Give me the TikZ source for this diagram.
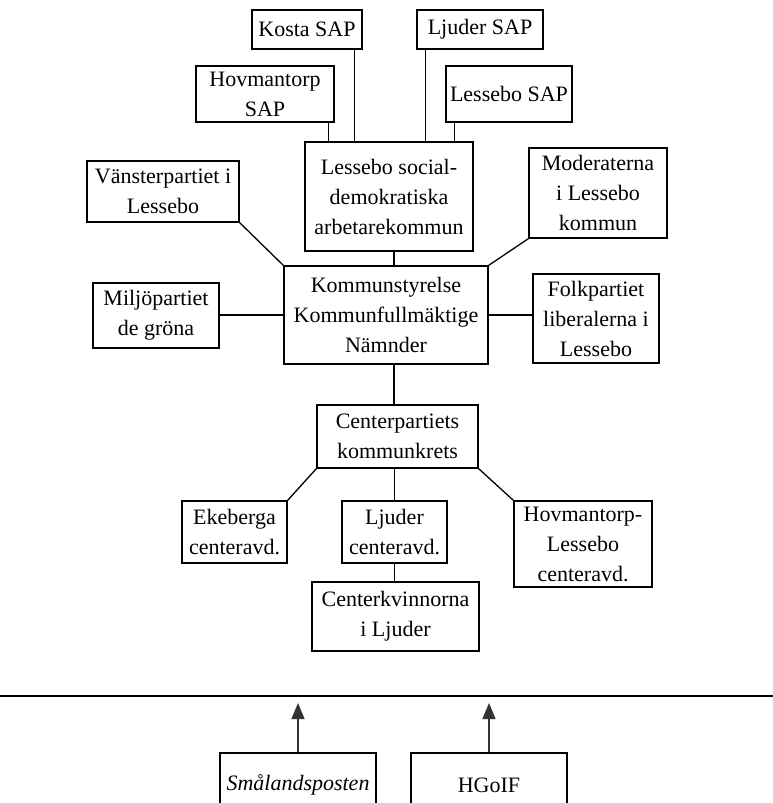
\documentclass[tikz,border=0pt]{standalone}
\usepackage{fontspec}
\setmainfont{Liberation Serif}
\usetikzlibrary{arrows.meta}
\tikzset{
  box/.style={draw, line width=1.3pt, inner sep=0pt, align=center,
    font=\fontsize{22}{30}\selectfont},
  conn/.style={line width=1.3pt},
  arr/.style={line width=1.3pt, draw=black!80, -{Triangle[width=13pt,length=16pt]}}
}
\begin{document}
\begin{tikzpicture}[x=1pt,y=-1pt]
\useasboundingbox (0,0) rectangle (773,803);
\clip (0,0) rectangle (773,803);
% top SAP boxes
\node[box, minimum width=110pt, minimum height=39pt] (kosta) at (307,29.5) {Kosta SAP};
\node[box, minimum width=126pt, minimum height=39pt] (ljsap) at (480,29.5) {Ljuder SAP};
\node[box, minimum width=138pt, minimum height=56pt] (hovsap) at (265,94) {Hovmantorp\\SAP};
\node[box, minimum width=126pt, minimum height=56pt] (lesap) at (509,94) {Lessebo SAP};
\node[box, minimum width=168pt, minimum height=109pt] (sd) at (389,196.5) {Lessebo social-\\demokratiska\\arbetarekommun};
% side boxes
\node[box, minimum width=152pt, minimum height=61pt] (vans) at (163,191.5) {Vänsterpartiet i\\Lessebo};
\node[box, minimum width=138pt, minimum height=90pt] (mod) at (598,193) {Moderaterna\\i Lessebo\\kommun};
\node[box, minimum width=204pt, minimum height=98pt] (kommun) at (386,315) {Kommunstyrelse\\Kommunfullmäktige\\Nämnder};
\node[box, minimum width=126pt, minimum height=65pt] (milj) at (156,315.5) {Miljöpartiet\\de gröna};
\node[box, minimum width=126pt, minimum height=89pt] (folk) at (596,318.5) {Folkpartiet\\liberalerna i\\Lessebo};
% center party
\node[box, minimum width=161pt, minimum height=63pt] (cent) at (397.5,436.5) {Centerpartiets\\kommunkrets};
\node[box, minimum width=105pt, minimum height=62pt] (eke) at (234.5,532) {Ekeberga\\centeravd.};
\node[box, minimum width=105pt, minimum height=62pt] (ljc) at (394.5,532) {Ljuder\\centeravd.};
\node[box, minimum width=138pt, minimum height=86pt] (hovl) at (583,544) {Hovmantorp-\\Lessebo\\centeravd.};
\node[box, minimum width=167pt, minimum height=69pt] (kvinn) at (395.5,616.5) {Centerkvinnorna\\i Ljuder};
% bottom
\node[box, minimum width=156pt, minimum height=64pt] (smal) at (298,785) {\itshape Smålandsposten};
\node[box, minimum width=156pt, minimum height=64pt] (hgoif) at (489,785) {HGoIF};
\coordinate (lineL) at (0,696);
\coordinate (lineR) at (773,696);
\coordinate (tipline) at (0,703);
% connectors
\draw[conn] ([xshift=-8pt]kosta.south east) -- ([xshift=-8pt]kosta.south east |- sd.north);
\draw[conn] ([xshift=-6pt]hovsap.south east) -- ([xshift=-6pt]hovsap.south east |- sd.north);
\draw[conn] ([xshift=9pt]ljsap.south west) -- ([xshift=9pt]ljsap.south west |- sd.north);
\draw[conn] ([xshift=9pt]lesap.south west) -- ([xshift=9pt]lesap.south west |- sd.north);
\draw[conn] ([xshift=5pt]sd.south) -- ([xshift=5pt]sd.south |- kommun.north);
\draw[conn] (vans.south east) -- (kommun.north west);
\draw[conn] (mod.south west) -- (kommun.north east);
\draw[conn] (kommun.west) -- (kommun.west -| milj.east);
\draw[conn] (kommun.east) -- (kommun.east -| folk.west);
\draw[conn] ([xshift=8pt]kommun.south) -- ([xshift=8pt]kommun.south |- cent.north);
\draw[conn] (eke.north east) -- (cent.south west);
\draw[conn] (cent.south east) -- (hovl.north west);
\draw[conn] (ljc.north) -- (ljc.north |- cent.south);
\draw[conn] (ljc.south) -- (ljc.south |- kvinn.north);
\draw[conn] (lineL) -- (lineR);
\draw[arr] (smal.north) -- (smal.north |- tipline);
\draw[arr] (hgoif.north) -- (hgoif.north |- tipline);
\end{tikzpicture}
\end{document}
